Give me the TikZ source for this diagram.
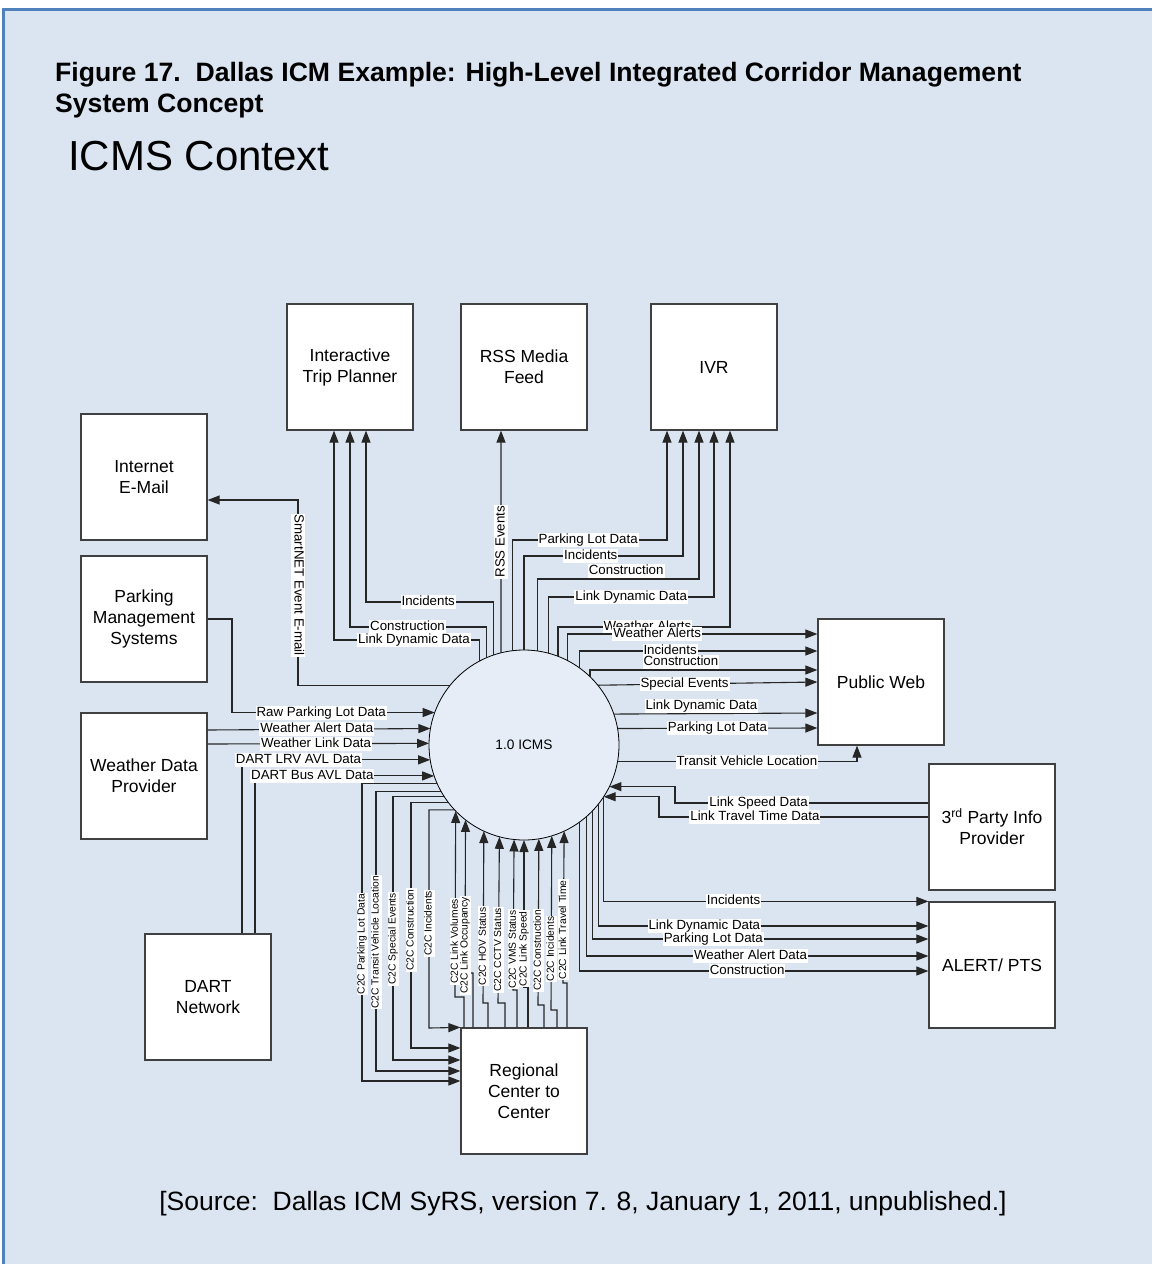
\documentclass[tikz,border=0pt]{standalone}
\usepackage{fontspec}
\setmainfont{Liberation Sans}
\usetikzlibrary{arrows.meta, calc, positioning}
\definecolor{panelblue}{HTML}{DBE5F1}
\definecolor{ruleblue}{HTML}{4F81BD}
\definecolor{icmsfill}{HTML}{E6EDF7}

\begin{document}
\begin{tikzpicture}[x=1pt, y=-1pt]
		\tikzstyle{box} = [draw=black!75, line width=1.2pt, fill=white, minimum width=126pt, minimum height=126pt, align=center, font=\fontsize{17.5}{21}\selectfont]
		\tikzstyle{proc} = [circle, draw=black, line width=0.8pt, fill=icmsfill, minimum size=190pt, outer sep=0pt, font=\fontsize{13.7}{16}\selectfont]
		\tikzstyle{flow} = [draw=black!85, line width=1.1pt, -{Triangle[length=12pt,width=9pt]}]
		\tikzstyle{lbl} = [fill=white, inner xsep=1pt, inner ysep=0.5pt, text height=10pt, text depth=3pt, font=\fontsize{13.3}{14}\selectfont]
		\tikzstyle{vlbl} = [lbl, rotate=90]
		\tikzstyle{clbl} = [fill=white, inner xsep=1pt, inner ysep=0.5pt, text height=7.6pt, text depth=2.4pt, rotate=90, font=\fontsize{10.3}{11}\selectfont]
		\useasboundingbox (0,0) rectangle (1152,1264);
		\fill [panelblue] (4,9) rectangle (1152,1264);
		\draw [ruleblue, line width=3pt] (3,1264) -- (3,9) -- (1152,9);
		% headings
		\node [anchor=north west, align=left, inner sep=0, font=\bfseries\fontsize{26.6}{31}\selectfont] (title) at (55,62) {Figure 17.\ \ Dallas ICM Example: High-Level Integrated Corridor Management\\System Concept};
		\node [anchor=base west, inner sep=0, font=\fontsize{42}{50}\selectfont] (ctx) at (68,170) {ICMS Context};
		\node [anchor=base, inner sep=0, font=\fontsize{26.5}{30}\selectfont] (src) at (583,1210) {[Source:\ \ Dallas ICM SyRS, version 7. 8, January 1, 2011, unpublished.]};
		% process and terminators
		\node [proc] (icms) at (524,745) {1.0 ICMS};
		\node [box] (tp) at (350,367) {Interactive\\Trip Planner};
		\node [box] (rss) at (524,367) {RSS Media\\Feed};
		\node [box] (ivr) at (714,367) {IVR};
		\node [box] (email) at (144,477) {Internet\\E-Mail};
		\node [box] (parking) at (144,619) {Parking\\Management\\Systems};
		\node [box] (weather) at (144,776) {Weather Data\\Provider};
		\node [box] (dart) at (208,997) {DART\\Network};
		\node [box] (pubweb) at (881,682) {Public Web};
		\node [box] (thirdparty) at (992,827) {3\textsuperscript{rd} Party Info\\Provider};
		\node [box] (alert) at (992,965) {ALERT/ PTS};
		\node [box] (c2c) at (524,1091) {Regional\\Center to\\Center};
		% to trip planner and rss
		\draw [flow] (icms.109.04) |- (366,602) node[lbl,pos=.755] {Incidents} -- ($(tp.south)+(16,0)$);
		\draw [flow] (icms.113.58) |- (350,627) node[lbl,pos=.79] {Construction} -- (tp.south);
		\draw [flow] (icms.118.96) |- (334,640) node[lbl,pos=.725] {Link Dynamic Data} -- ($(tp.south)+(-16,0)$);
		\draw [flow] (icms.104.01) -- ($(rss.south)+(-23,0)$) node[vlbl,midway] {RSS Events};
		% to ivr
		\draw [flow] (icms.97.26) |- (667,540) node[lbl,pos=.745] {Parking Lot Data} -- ($(ivr.south)+(-47,0)$);
		\draw [flow] (icms.90) |- (683,556) node[lbl,pos=.71] {Incidents} -- ($(ivr.south)+(-31,0)$);
		\draw [flow] (icms.82.14) |- (699,579) node[lbl,pos=.775,yshift=8pt] {Construction} -- ($(ivr.south)+(-15,0)$);
		\draw [flow] (icms.75.37) |- (714,597) node[lbl,pos=.75] {Link Dynamic Data} -- (ivr.south);
		\draw [flow] (icms.69.67) |- (730,627) node[lbl,pos=.76] {Weather Alerts} -- ($(ivr.south)+(16,0)$);
		% to public web
		\draw [flow] (icms.63.09) |- ($(pubweb.west)+(0,-48)$) node[lbl,pos=.68] {Weather Alerts};
		\draw [flow] (icms.54.62) |- ($(pubweb.west)+(0,-31)$) node[lbl,pos=.69] {Incidents};
		\draw [flow] (icms.46.82) |- ($(pubweb.west)+(0,-12)$) node[lbl,pos=.70,yshift=8pt] {Construction};
		\draw [flow] (icms.39.95) -- (pubweb.west) node[lbl,pos=.395] {Special Events};
		\draw [flow] (icms.19.69) -- ($(pubweb.west)+(0,31)$) node[lbl,pos=.43,yshift=8pt] {Link Dynamic Data};
		\draw [flow] (icms.10.31) -- ($(pubweb.west)+(0,46)$) node[lbl,pos=.5] {Parking Lot Data};
		\draw [flow] (icms.-10.92) -| ($(pubweb.south)+(-24,0)$) node[lbl,pos=.27] {Transit Vehicle Location};
		% from 3rd party
		\draw [flow] ($(thirdparty.west)+(0,-24)$) -- (675,803) node[lbl,pos=.67] {Link Speed Data} |- (icms.-26.24);
		\draw [flow] ($(thirdparty.west)+(0,-10)$) -- (659,817) node[lbl,pos=.644] {Link Travel Time Data} |- (icms.-33.91);
		% to alert
		\draw [flow] (icms.-33.74) |- (alert.north west) node[lbl,pos=.70] {Incidents};
		\draw [flow] (icms.-38.83) |- ($(alert.west)+(0,-39)$) node[lbl,pos=.66] {Link Dynamic Data};
		\draw [flow] (icms.-44.29) |- ($(alert.west)+(0,-26)$) node[lbl,pos=.68] {Parking Lot Data};
		\draw [flow] (icms.-49.26) |- ($(alert.west)+(0,-9)$) node[lbl,pos=.74] {Weather Alert Data};
		\draw [flow] (icms.-54.62) |- ($(alert.west)+(0,6)$) node[lbl,pos=.74] {Construction};
		% inputs on the left
		\draw [flow] (parking.east) -- (232,619) |- (icms.160.31) node[lbl,pos=.72] {Raw Parking Lot Data};
		\draw [flow] ($(weather.east)+(0,-46)$) -- (icms.170.92) node[lbl,pos=.49] {Weather Alert Data};
		\draw [flow] ($(weather.east)+(0,-32)$) -- (icms.179.4) node[lbl,pos=.49] {Weather Link Data};
		\draw [flow] ($(dart.north)+(34,0)$) |- (icms.189.08) node[lbl,pos=.65] {DART LRV AVL Data};
		\draw [flow] ($(dart.north)+(47,0)$) |- (icms.199.04) node[lbl,pos=.66] {DART Bus AVL Data};
		\draw [flow] (icms.141.61) -| (298,500) node[lbl,rotate=-90,pos=.77] {SmartNET Event E-mail} -- ($(email.east)+(0,23)$);
		% to regional center
		\draw [flow] (icms.204.24) -| (362,1081) node[clbl,pos=.77] {C2C Parking Lot Data} -- ($(c2c.west)+(0,-10)$);
		\draw [flow] (icms.209.65) -| (376,1071) node[clbl,pos=.77] {C2C Transit Vehicle Location} -- ($(c2c.west)+(0,-20)$);
		\draw [flow] (icms.213.19) -| (393,1060) node[clbl,pos=.77] {C2C Special Events} -- ($(c2c.west)+(0,-31)$);
		\draw [flow] (icms.217.63) -| (411,1048) node[clbl,pos=.76] {C2C Construction} -- ($(c2c.west)+(0,-43)$);
		\draw [flow] (icms.223.17) -| (429,1028) node[clbl,pos=.76] {C2C Incidents} -- (c2c.north west);
		% from regional center
		\draw [flow] ($(c2c.north)+(-60,0)$) |- (455,997) -- (icms.-136.58) node[clbl,pos=.30] {C2C Link Volumes};
		\draw [flow] ($(c2c.north)+(-51,0)$) |- (465,973) -- (icms.-128.4) node[clbl,pos=.18] {C2C Link Occupancy};
		\draw [flow] ($(c2c.north)+(-36,0)$) |- (483,1003) -- (icms.-115.57) node[clbl,pos=.33] {C2C HOV Status};
		\draw [flow] ($(c2c.north)+(-19,0)$) |- (498,1003) -- (icms.-105.88) node[clbl,pos=.32] {C2C CCTV Status};
		\draw [flow] ($(c2c.north)+(-7,0)$) |- (513,990) -- (icms.-96.65) node[clbl,pos=.27] {C2C VMS Status};
		\draw [flow] ($(c2c.north)+(4,0)$) |- (524,987) -- (icms.-90) node[clbl,pos=.26] {C2C Link Speed};
		\draw [flow] ($(c2c.north)+(20,0)$) |- (538,1005) -- (icms.-81.52) node[clbl,pos=.33] {C2C Construction};
		\draw [flow] ($(c2c.north)+(33,0)$) |- (551,1010) -- (icms.-73.49) node[clbl,pos=.35] {C2C Incidents};
		\draw [flow] ($(c2c.north)+(43,0)$) |- (563,983) -- (icms.-65.76) node[clbl,pos=.35] {C2C Link Travel Time};
\end{tikzpicture}
\end{document}
